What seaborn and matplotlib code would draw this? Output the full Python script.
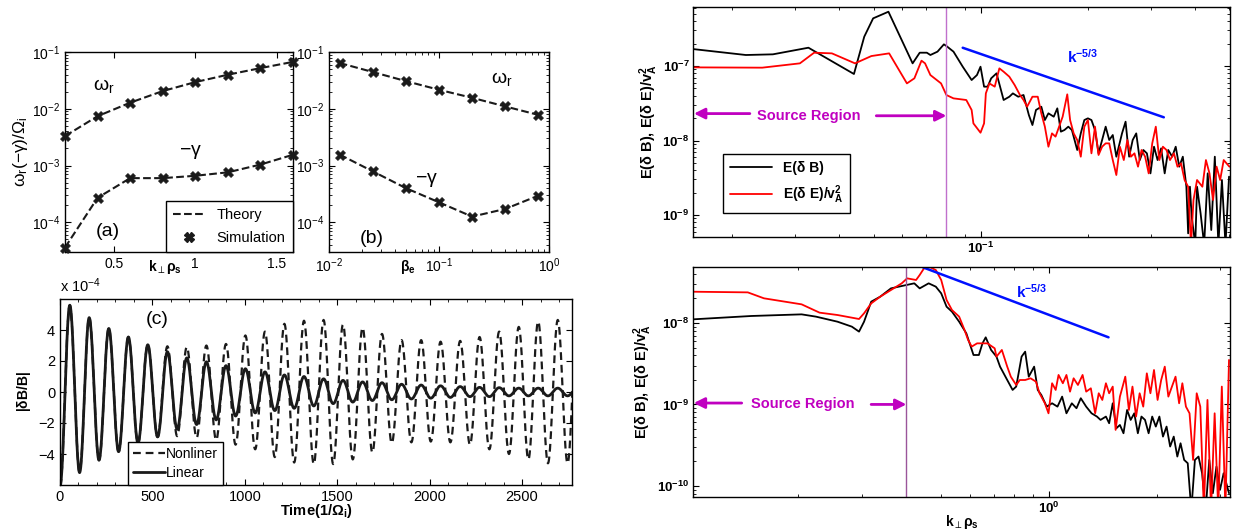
import numpy as np
import matplotlib
matplotlib.use("Agg")
import matplotlib.pyplot as plt
import seaborn as sns
from matplotlib.lines import Line2D
from matplotlib.ticker import (LogLocator, NullFormatter, FixedLocator,
                               FixedFormatter, MultipleLocator)

# ---------------- data: panel (a) ----------------
a_kperp = [0.2, 0.4, 0.6, 0.8, 1.0, 1.2, 1.4, 1.6]
a_omega_r = [3.3e-3, 7.4e-3, 1.28e-2, 2.05e-2, 2.95e-2, 3.98e-2, 5.2e-2, 6.7e-2]
a_gamma = [3.6e-5, 2.7e-4, 6.0e-4, 6.0e-4, 6.6e-4, 7.6e-4, 1.04e-3, 1.55e-3]

# ---------------- data: panel (b) ----------------
b_beta = [0.0125, 0.025, 0.05, 0.1, 0.2, 0.4, 0.8]
b_omega_r = [0.064, 0.0444, 0.0307, 0.0216, 0.0156, 0.011, 0.0078]
b_gamma = [1.56e-3, 7.9e-4, 4.0e-4, 2.25e-4, 1.26e-4, 1.72e-4, 2.95e-4]

# ---------------- data: panel (c) (extrema, units of 1e-4) ----------------
c_t_ext = [0, 53, 106, 158, 211, 264, 317, 370, 422, 475, 528, 581, 634, 686,
           739, 792, 845, 898, 950, 1003, 1056, 1109, 1162, 1214, 1267, 1320,
           1373, 1426, 1478, 1531, 1584, 1637, 1690, 1742, 1795, 1848, 1901,
           1954, 2006, 2059, 2112, 2165, 2218, 2270, 2323, 2376, 2429, 2482,
           2534, 2587, 2640, 2693, 2746, 2798]
c_linear_ext = [-6.1, 5.6, -5.2, 4.8, -4.4, 4.1, -3.85, 3.55, -3.3, 3.05, -2.9,
                2.6, -2.4, 2.2, -2.1, 1.95, -1.8, 1.7, -1.55, 1.5, -1.35, 1.3,
                -1.2, 1.1, -1.05, 1.0, -0.9, 0.85, -0.75, 0.75, -0.65, 0.65,
                -0.55, 0.6, -0.5, 0.5, -0.45, 0.45, -0.4, 0.4, -0.35, 0.35,
                -0.3, 0.3, -0.3, 0.28, -0.25, 0.25, -0.25, 0.25, -0.25, 0.25,
                -0.25, 0.25]
c_nonlin_ext = [-6.1, 5.6, -5.2, 4.8, -4.4, 4.1, -3.85, 3.55, -3.3, 3.05, -2.9,
                2.95, -2.85, 2.9, -2.95, 3.0, -3.1, 3.1, -3.4, 3.65, -3.7, 3.9,
                -4.2, 4.4, -4.55, 4.6, -4.65, 4.65, -4.65, 4.35, -4.35, 4.15,
                -3.9, 3.75, -3.3, 3.35, -3.25, 3.35, -3.2, 3.25, -3.25, 3.3,
                -3.4, 3.55, -3.7, 3.9, -4.0, 4.2, -4.35, 4.55, -4.6, 4.65,
                -4.6, 4.6]

# ---------------- data: top-right spectra (log10 values) ----------------
top_logk_B = [-1.810, -1.661, -1.585, -1.485, -1.357, -1.328, -1.303, -1.260,
              -1.192, -1.172, -1.152, -1.142, -1.122, -1.104, -1.097, -1.077,
              -1.051, -1.026, -1.011, -1.001, -0.991, -0.981, -0.971, -0.956,
              -0.946, -0.936, -0.920, -0.910, -0.895, -0.880, -0.865, -0.855,
              -0.845, -0.830, -0.820, -0.810, -0.795, -0.785, -0.775, -0.765,
              -0.754, -0.744, -0.729, -0.719, -0.709, -0.699, -0.689, -0.679,
              -0.669, -0.659, -0.649, -0.639, -0.629, -0.619, -0.603, -0.593,
              -0.583, -0.573, -0.563, -0.553, -0.543, -0.533, -0.523, -0.513,
              -0.503, -0.493, -0.483, -0.473, -0.462, -0.452, -0.442, -0.432,
              -0.422, -0.417, -0.412, -0.407, -0.397, -0.392, -0.382, -0.372,
              -0.362, -0.352, -0.342, -0.332, -0.322, -0.312, -0.302]
top_logE_B = [-6.772, -6.852, -6.843, -6.754, -7.107, -6.606, -6.360, -6.271,
              -6.964, -6.821, -6.821, -6.852, -6.807, -6.709, -6.731, -6.807,
              -7.009, -7.188, -7.121, -7.009, -7.277, -7.277, -7.165, -7.098,
              -7.277, -7.456, -7.412, -7.367, -7.412, -7.389, -7.658, -7.792,
              -7.590, -7.546, -7.725, -7.635, -7.680, -7.568, -7.881, -7.859,
              -7.814, -7.859, -8.127, -7.904, -7.725, -7.702, -7.725, -7.859,
              -8.172, -7.993, -7.814, -7.993, -7.926, -8.217, -7.904, -7.747,
              -8.217, -7.993, -7.904, -8.262, -8.127, -8.172, -8.441, -8.083,
              -8.262, -8.105, -8.441, -8.127, -8.217, -8.083, -8.351, -8.217,
              -8.620, -9.246, -8.620, -9.022, -9.400, -8.620, -8.978, -9.400,
              -8.441, -9.201, -8.217, -9.400, -8.530, -9.400, -8.485]
top_logk_E = [-1.810, -1.615, -1.509, -1.469, -1.419, -1.354, -1.308, -1.258,
              -1.208, -1.187, -1.167, -1.157, -1.142, -1.112, -1.097, -1.077,
              -1.041, -1.026, -1.021, -1.001, -0.991, -0.986, -0.976, -0.961,
              -0.948, -0.936, -0.920, -0.905, -0.890, -0.880, -0.870, -0.855,
              -0.840, -0.830, -0.820, -0.810, -0.800, -0.790, -0.780, -0.770,
              -0.757, -0.749, -0.739, -0.729, -0.719, -0.709, -0.699, -0.689,
              -0.679, -0.669, -0.659, -0.649, -0.639, -0.629, -0.619, -0.609,
              -0.598, -0.588, -0.578, -0.568, -0.558, -0.548, -0.538, -0.528,
              -0.518, -0.508, -0.498, -0.488, -0.478, -0.468, -0.457, -0.447,
              -0.437, -0.427, -0.417, -0.409, -0.402, -0.392, -0.377, -0.367,
              -0.357, -0.347, -0.337, -0.327, -0.317, -0.301]
top_logE_E = [-7.018, -7.022, -6.964, -6.821, -6.830, -6.964, -6.866, -6.830,
              -7.233, -7.165, -6.928, -6.964, -7.121, -7.233, -7.389, -7.434,
              -7.456, -7.590, -7.770, -7.895, -7.770, -7.367, -7.233, -7.277,
              -7.031, -7.076, -7.143, -7.255, -7.389, -7.456, -7.546, -7.412,
              -7.412, -7.635, -7.814, -8.083, -7.904, -7.948, -7.814, -7.680,
              -7.380, -7.725, -7.904, -7.993, -8.217, -7.814, -7.725, -8.172,
              -7.814, -8.194, -8.083, -8.038, -8.038, -8.262, -8.463, -8.083,
              -8.262, -7.993, -8.217, -8.172, -8.351, -8.127, -8.217, -8.441,
              -8.038, -7.814, -8.262, -8.083, -8.127, -8.262, -8.172, -8.351,
              -8.306, -8.530, -8.620, -9.400, -8.799, -8.530, -8.620, -8.262,
              -8.441, -8.799, -8.351, -8.530, -8.262, -8.351]
top_slope_k = [0.0889, 0.327]
top_slope_E = [1.76e-7, 2.05e-8]

# ---------------- data: bottom-right spectra (log10 values) ----------------
bot_logk_B = [-0.992, -0.830, -0.690, -0.650, -0.590, -0.550, -0.530, -0.516,
              -0.496, -0.471, -0.441, -0.411, -0.376, -0.361, -0.336, -0.316,
              -0.301, -0.286, -0.271, -0.251, -0.231, -0.211, -0.196, -0.186,
              -0.177, -0.162, -0.147, -0.137, -0.117, -0.102, -0.092, -0.077,
              -0.067, -0.057, -0.042, -0.032, -0.022, -0.007, 0.008, 0.023,
              0.036, 0.048, 0.063, 0.076, 0.088, 0.103, 0.118, 0.133, 0.143,
              0.158, 0.167, 0.177, 0.187, 0.197, 0.207, 0.217, 0.227, 0.237,
              0.247, 0.257, 0.267, 0.277, 0.287, 0.297, 0.307, 0.317, 0.327,
              0.337, 0.347, 0.357, 0.366, 0.376, 0.386, 0.396, 0.406, 0.416,
              0.426, 0.436, 0.446, 0.456, 0.466, 0.476, 0.486, 0.501]
bot_logE_B = [-7.955, -7.914, -7.894, -7.922, -7.984, -8.045, -8.106, -7.984,
              -7.738, -7.677, -7.575, -7.546, -7.513, -7.575, -7.513, -7.554,
              -7.636, -7.800, -7.861, -7.984, -8.127, -8.393, -8.393, -8.250,
              -8.176, -8.331, -8.413, -8.536, -8.700, -8.822, -8.781, -8.413,
              -8.352, -8.659, -8.536, -8.822, -8.884, -9.027, -8.986, -9.027,
              -8.904, -9.109, -8.986, -9.047, -8.924, -9.027, -9.109, -9.149,
              -9.190, -9.149, -9.231, -8.986, -9.293, -9.252, -9.354, -9.068,
              -9.190, -9.109, -9.354, -9.149, -9.190, -9.354, -9.149, -9.272,
              -9.149, -9.395, -9.272, -9.517, -9.395, -9.640, -9.477, -9.681,
              -9.722, -10.300, -9.681, -9.640, -9.845, -10.300, -9.681,
              -10.090, -9.763, -10.049, -9.845, -10.090]
bot_logk_E = [-0.992, -0.840, -0.795, -0.690, -0.640, -0.590, -0.530, -0.516,
              -0.496, -0.471, -0.441, -0.411, -0.396, -0.371, -0.361, -0.346,
              -0.331, -0.316, -0.301, -0.286, -0.271, -0.251, -0.236, -0.226,
              -0.216, -0.201, -0.172, -0.152, -0.147, -0.132, -0.117, -0.107,
              -0.092, -0.082, -0.067, -0.052, -0.037, -0.027, -0.012, -0.002,
              0.008, 0.018, 0.026, 0.038, 0.048, 0.058, 0.068, 0.080, 0.093,
              0.103, 0.116, 0.128, 0.138, 0.148, 0.158, 0.167, 0.177, 0.185,
              0.197, 0.212, 0.222, 0.232, 0.242, 0.252, 0.262, 0.272, 0.282,
              0.292, 0.302, 0.312, 0.322, 0.332, 0.342, 0.352, 0.362, 0.371,
              0.381, 0.391, 0.401, 0.411, 0.421, 0.431, 0.441, 0.451, 0.461,
              0.471, 0.481, 0.491, 0.501]
bot_logE_E = [-7.616, -7.624, -7.697, -7.771, -7.873, -7.902, -7.951, -7.881,
              -7.759, -7.677, -7.595, -7.513, -7.452, -7.472, -7.411, -7.309,
              -7.317, -7.350, -7.472, -7.718, -7.841, -7.922, -8.086, -8.209,
              -8.290, -8.250, -8.250, -8.311, -8.413, -8.331, -8.536, -8.659,
              -8.761, -8.700, -8.700, -8.679, -8.720, -8.863, -8.986, -9.109,
              -8.740, -8.822, -8.638, -8.740, -8.638, -8.843, -8.679, -8.761,
              -8.638, -8.843, -8.802, -9.109, -8.863, -8.945, -8.740, -8.863,
              -8.781, -9.313, -8.904, -8.659, -9.068, -8.781, -9.149, -8.863,
              -9.027, -8.618, -8.863, -8.577, -8.945, -8.700, -8.536, -8.904,
              -8.781, -8.659, -8.986, -8.740, -9.027, -9.109, -9.681, -8.863,
              -9.027, -10.300, -8.945, -10.300, -9.109, -10.300, -8.781,
              -10.300, -8.454]
bot_slope_k = [0.445, 1.463]
bot_slope_E = [4.82e-8, 6.67e-9]

# ---------------- style ----------------
sns.set_theme(style="white")
plt.rcParams["font.family"] = ["Liberation Sans", "DejaVu Sans"]
plt.rcParams.update({
    "mathtext.fontset": "custom",
    "mathtext.rm": "Liberation Sans",
    "mathtext.it": "Liberation Sans:italic",
    "mathtext.bf": "Liberation Sans:bold",
    "mathtext.sf": "DejaVu Sans:bold",
    "axes.edgecolor": "black",
    "axes.linewidth": 1.0,
    "text.color": "black",
    "axes.labelcolor": "black",
    "xtick.color": "black",
    "ytick.color": "black",
})
MAG = "#c000c0"
KPERP = r"$\mathbf{k}_{\mathsf{\perp}}\mathbf{\rho_s}$"

W, H = 1239, 529
fig = plt.figure(figsize=(W / 100, H / 100), dpi=100)


def add_ax(x0, y0, x1, y1):
    return fig.add_axes([x0 / W, 1 - y1 / H, (x1 - x0) / W, (y1 - y0) / H])


def style_ticks(ax, size=9.5, weight="normal", pad=3.5):
    ax.tick_params(which="both", direction="in", top=True, right=True,
                   bottom=True, left=True, colors="black", labelsize=size,
                   pad=pad)
    ax.tick_params(which="major", length=4, width=0.8)
    ax.tick_params(which="minor", length=2, width=0.6)
    for lab in ax.get_xticklabels() + ax.get_yticklabels():
        lab.set_fontweight(weight)


def log_minor(axis):
    axis.set_minor_locator(LogLocator(base=10, subs=np.arange(2, 10), numticks=50))
    axis.set_minor_formatter(NullFormatter())


def pow_labels(exps, bold=False):
    if bold:
        return [r"$\mathbf{10^{%d}}$" % e for e in exps]
    return [r"$10^{%d}$" % e for e in exps]


# ---------------- panel (a) ----------------
ax = add_ax(65, 52, 293, 252)
sns.lineplot(x=a_kperp, y=a_omega_r, ax=ax, color="k", linestyle="--", lw=1.5,
             sort=False, estimator=None)
sns.lineplot(x=a_kperp, y=a_gamma, ax=ax, color="k", linestyle="--", lw=1.5,
             sort=False, estimator=None)
sns.scatterplot(x=a_kperp, y=a_omega_r, ax=ax, marker="X", s=55, color="k",
                edgecolor="k", linewidth=0.3, clip_on=False, zorder=5)
sns.scatterplot(x=a_kperp, y=a_gamma, ax=ax, marker="X", s=55, color="k",
                edgecolor="k", linewidth=0.3, clip_on=False, zorder=5)
ax.set_yscale("log")
ax.set_xlim(0.2, 1.6)
ax.set_ylim(3e-5, 1e-1)
ax.set_xticks([0.5, 1.0, 1.5])
ax.set_xticklabels(["0.5", "1", "1.5"])
ax.yaxis.set_major_locator(FixedLocator([1e-4, 1e-3, 1e-2, 1e-1]))
ax.yaxis.set_major_formatter(FixedFormatter(pow_labels([-4, -3, -2, -1])))
log_minor(ax.yaxis)
style_ticks(ax, 10)
ax.set_ylabel(r"$\mathrm{\omega_r(-\gamma)/\Omega_i}$", fontsize=12.5, labelpad=1)
ax.text(0.44, -0.03, KPERP, transform=ax.transAxes,
        ha="center", va="top", fontsize=10)
ax.text(0.44, 2.5e-2, r"$\mathrm{\omega_r}$", fontsize=14, ha="center", va="center")
ax.text(0.97, 1.74e-3, r"$\mathrm{-\gamma}$", fontsize=14, ha="center", va="center")
ax.text(0.46, 6.8e-5, "(a)", fontsize=14, ha="center", va="center")
ax.legend(handles=[Line2D([], [], color="k", ls="--", lw=1.5, label="Theory"),
                   Line2D([], [], color="k", marker="X", ls="none", ms=7,
                          label="Simulation")],
          loc="lower right", bbox_to_anchor=(1, 0), borderaxespad=0,
          fancybox=False, edgecolor="black", framealpha=1, fontsize=10.5,
          handlelength=2.2, borderpad=0.5, labelspacing=0.6)

# ---------------- panel (b) ----------------
ax = add_ax(329, 52, 549, 252)
sns.lineplot(x=b_beta, y=b_omega_r, ax=ax, color="k", linestyle="--", lw=1.5,
             sort=False, estimator=None)
sns.lineplot(x=b_beta, y=b_gamma, ax=ax, color="k", linestyle="--", lw=1.5,
             sort=False, estimator=None)
sns.scatterplot(x=b_beta, y=b_omega_r, ax=ax, marker="X", s=55, color="k",
                edgecolor="k", linewidth=0.3, clip_on=False, zorder=5)
sns.scatterplot(x=b_beta, y=b_gamma, ax=ax, marker="X", s=55, color="k",
                edgecolor="k", linewidth=0.3, clip_on=False, zorder=5)
ax.set_xscale("log")
ax.set_yscale("log")
ax.set_xlim(0.01, 1)
ax.set_ylim(3e-5, 1e-1)
ax.xaxis.set_major_locator(FixedLocator([1e-2, 1e-1, 1e0]))
ax.xaxis.set_major_formatter(FixedFormatter(pow_labels([-2, -1, 0])))
log_minor(ax.xaxis)
ax.yaxis.set_major_locator(FixedLocator([1e-4, 1e-3, 1e-2, 1e-1]))
ax.yaxis.set_major_formatter(FixedFormatter(pow_labels([-4, -3, -2, -1])))
log_minor(ax.yaxis)
style_ticks(ax, 10)
ax.text(0.36, -0.03, r"$\mathbf{\beta_e}$", transform=ax.transAxes,
        ha="center", va="top", fontsize=10)
ax.text(0.37, 3.4e-2, r"$\mathrm{\omega_r}$", fontsize=14, ha="center", va="center")
ax.text(0.0767, 5.5e-4, r"$\mathrm{-\gamma}$", fontsize=14, ha="center", va="center")
ax.text(0.0243, 5.1e-5, "(b)", fontsize=14, ha="center", va="center")


# ---------------- panel (c) ----------------
def smooth_between(t_ext, v_ext, n=24):
    ts, vs = [], []
    for i in range(len(t_ext) - 1):
        t0, t1 = t_ext[i], t_ext[i + 1]
        v0, v1 = v_ext[i], v_ext[i + 1]
        s = np.linspace(0, 1, n, endpoint=False)
        ts.append(t0 + (t1 - t0) * s)
        vs.append(0.5 * (v0 + v1) + 0.5 * (v0 - v1) * np.cos(np.pi * s))
    ts.append([t_ext[-1]])
    vs.append([v_ext[-1]])
    return np.concatenate(ts), np.concatenate(vs)


ax = add_ax(60, 299, 572, 485)
tn, vn = smooth_between(c_t_ext, c_nonlin_ext)
tl, vl = smooth_between(c_t_ext, c_linear_ext)
sns.lineplot(x=tn, y=vn, ax=ax, color="k", lw=1.6,
             linestyle=(0, (3.5, 2.2)), sort=False, estimator=None)
sns.lineplot(x=tl, y=vl, ax=ax, color="k", lw=2.0, sort=False, estimator=None)
ax.set_xlim(0, 2770)
ax.set_ylim(-6, 6)
ax.set_xticks([0, 500, 1000, 1500, 2000, 2500])
ax.set_yticks([-4, -2, 0, 2, 4])
ax.set_yticklabels(["\u22124", "\u22122", "0", "2", "4"])
ax.xaxis.set_minor_locator(MultipleLocator(100))
style_ticks(ax, 10.5)
ax.set_xlabel(r"Time(1/$\mathbf{\Omega_i}$)", fontsize=10.5, fontweight="bold",
              labelpad=-1)
ax.set_ylabel(r"|$\mathbf{\delta}$B/B|", fontsize=10, fontweight="bold",
              labelpad=4)
ax.text(0.0, 1.02, r"x 10$^{-4}$", transform=ax.transAxes, fontsize=10.5,
        ha="left", va="bottom")
ax.text(528, 4.7, "(c)", fontsize=14, ha="center", va="center")
ax.legend(handles=[Line2D([], [], color="k", lw=1.6, ls=(0, (3.5, 2.2)),
                          label="Nonliner"),
                   Line2D([], [], color="k", lw=2.0, label="Linear")],
          loc="lower left", bbox_to_anchor=(0.133, 0), borderaxespad=0,
          fancybox=False, edgecolor="black", framealpha=1, fontsize=10,
          handlelength=2.3, borderpad=0.35, labelspacing=0.35,
          handletextpad=0.1)

# ---------------- right spectra ----------------
YLAB = r"E($\mathbf{\delta}$ B), E($\mathbf{\delta}$ E)/$\mathbf{v_A^2}$"


def spectrum_axes(ax, kB, EB, kE, EE, slope_k, slope_E, vline_k, vcol):
    sns.lineplot(x=10 ** np.array(kB), y=10 ** np.array(EB), ax=ax, color="black",
                 lw=1.3, sort=False, estimator=None)
    sns.lineplot(x=10 ** np.array(kE), y=10 ** np.array(EE), ax=ax, color="red",
                 lw=1.3, sort=False, estimator=None)
    sns.lineplot(x=slope_k, y=slope_E, ax=ax, color="#0010ff", lw=1.8,
                 sort=False, estimator=None)
    ax.axvline(vline_k, color=vcol, lw=1.0)
    ax.set_xscale("log")
    ax.set_yscale("log")
    ax.set_ylabel(YLAB, fontsize=10.5, fontweight="bold", labelpad=2)


ax = add_ax(693, 7, 1230, 237)
spectrum_axes(ax, top_logk_B, top_logE_B, top_logk_E, top_logE_E,
              top_slope_k, top_slope_E, 0.08, "#c070cc")
ax.set_xlim(0.0155, 0.502)
ax.set_ylim(5.07e-10, 6.2e-7)
ax.xaxis.set_major_locator(FixedLocator([0.1]))
ax.xaxis.set_major_formatter(FixedFormatter(pow_labels([-1], True)))
log_minor(ax.xaxis)
ax.yaxis.set_major_locator(FixedLocator([1e-9, 1e-8, 1e-7]))
ax.yaxis.set_major_formatter(FixedFormatter(pow_labels([-9, -8, -7], True)))
log_minor(ax.yaxis)
style_ticks(ax, 9.5, "bold", pad=2.5)
ax.text(0.193, 1.32e-7, r"$\mathbf{k^{-5/3}}$", color="#0010ff", fontsize=11,
        ha="center", va="center")
ax.text(0.0329, 2.15e-8, "Source Region", color=MAG, fontsize=10.5,
        fontweight="bold", ha="center", va="center")
ax.annotate("", xy=(0.0156, 2.3e-8), xytext=(0.0224, 2.3e-8),
            arrowprops=dict(arrowstyle="-|>", color=MAG, lw=2.0,
                            mutation_scale=16, shrinkA=0, shrinkB=0))
ax.annotate("", xy=(0.08, 2.15e-8), xytext=(0.0508, 2.15e-8),
            arrowprops=dict(arrowstyle="-|>", color=MAG, lw=2.0,
                            mutation_scale=16, shrinkA=0, shrinkB=0))
leg = ax.legend(handles=[Line2D([], [], color="black", lw=1.3, label="E(\u03b4 B)"),
                         Line2D([], [], color="red", lw=1.3,
                                label=r"E($\mathbf{\delta}$ E)/$\mathbf{v_A^2}$")],
                loc="lower left", bbox_to_anchor=(0.056, 0.104), borderaxespad=0,
                fancybox=False, edgecolor="black", framealpha=1, fontsize=10,
                handlelength=3.0, borderpad=0.5, labelspacing=0.6)
for t in leg.get_texts():
    t.set_fontweight("bold")

ax = add_ax(693, 267, 1230, 497)
spectrum_axes(ax, bot_logk_B, bot_logE_B, bot_logk_E, bot_logE_E,
              bot_slope_k, bot_slope_E, 0.4, "#9a559a")
ax.set_xlim(0.1017, 3.19)
ax.set_ylim(7.3e-11, 4.87e-8)
ax.xaxis.set_major_locator(FixedLocator([1.0]))
ax.xaxis.set_major_formatter(FixedFormatter(pow_labels([0], True)))
log_minor(ax.xaxis)
ax.yaxis.set_major_locator(FixedLocator([1e-10, 1e-9, 1e-8]))
ax.yaxis.set_major_formatter(FixedFormatter(pow_labels([-10, -9, -8], True)))
log_minor(ax.yaxis)
style_ticks(ax, 9.5, "bold", pad=2.5)
ax.set_xlabel(KPERP, fontsize=10, labelpad=-2)
ax.text(0.895, 2.42e-8, r"$\mathbf{k^{-5/3}}$", color="#0010ff", fontsize=11,
        ha="center", va="center")
ax.text(0.206, 1.0e-9, "Source Region", color=MAG, fontsize=10.5,
        fontweight="bold", ha="center", va="center")
ax.annotate("", xy=(0.1022, 1.04e-9), xytext=(0.139, 1.04e-9),
            arrowprops=dict(arrowstyle="-|>", color=MAG, lw=2.0,
                            mutation_scale=16, shrinkA=0, shrinkB=0))
ax.annotate("", xy=(0.4, 1.0e-9), xytext=(0.319, 1.0e-9),
            arrowprops=dict(arrowstyle="-|>", color=MAG, lw=2.0,
                            mutation_scale=16, shrinkA=0, shrinkB=0))

fig.savefig("out.png", dpi=100, facecolor="white")
